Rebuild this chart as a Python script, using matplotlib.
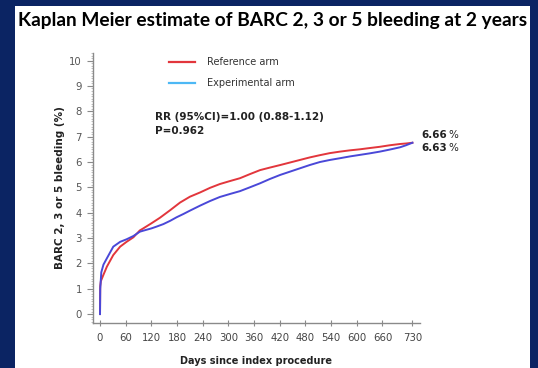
"""
plot.py — Kaplan Meier estimate of BARC 2, 3 or 5 bleeding at 2 years
Reference arm vs Experimental arm, saved to out.png
"""

import matplotlib
matplotlib.use("Agg")
import matplotlib.pyplot as plt
from matplotlib.patches import Rectangle
from matplotlib.ticker import MultipleLocator

# ── data ──
REF_DAYS = [0, 0.5, 2, 8, 16, 31, 47, 62, 78, 93, 101, 120, 140, 164, 187, 210, 234,
            257, 280, 304, 327, 350, 374, 397, 421, 444, 467, 490, 514, 537, 561,
            584, 607, 630, 654, 677, 701, 715, 730]
REF_PCT = [0, 1.1, 1.3, 1.55, 1.87, 2.33, 2.66, 2.85, 3.03, 3.30, 3.38, 3.58, 3.80,
           4.10, 4.40, 4.63, 4.80, 4.98, 5.13, 5.25, 5.36, 5.52, 5.68, 5.78, 5.88,
           5.98, 6.08, 6.18, 6.27, 6.35, 6.41, 6.46, 6.50, 6.55, 6.60, 6.66, 6.71,
           6.73, 6.76]

EXP_DAYS = [0, 0.5, 3, 8, 16, 31, 47, 62, 78, 93, 101, 120, 132, 148, 164, 179, 195,
            210, 234, 257, 280, 304, 327, 350, 374, 397, 421, 444, 467, 490, 514,
            537, 561, 584, 607, 630, 654, 677, 701, 715, 730]
EXP_PCT = [0, 1.0, 1.65, 1.95, 2.2, 2.66, 2.85, 2.95, 3.08, 3.25, 3.29, 3.38, 3.45,
           3.55, 3.68, 3.82, 3.95, 4.08, 4.28, 4.46, 4.62, 4.74, 4.85, 5.00, 5.16,
           5.33, 5.49, 5.62, 5.75, 5.88, 6.00, 6.08, 6.15, 6.22, 6.28, 6.34, 6.41,
           6.49, 6.58, 6.66, 6.76]

X_TICKS = [0, 60, 120, 180, 240, 300, 360, 420, 480, 540, 600, 660, 730]
Y_TICKS = list(range(0, 11))

FINAL_LABELS = ["6.66", "6.63"]
FINAL_Y = [7.07, 6.54]

# ── style ──
NAVY = "#0b2463"
RED = "#e2363c"
BLUE = "#4a48d8"
LIGHT_BLUE = "#4db8f5"
GRAY = "#8a8a8a"
TXT = "#222222"


def main():
    fig = plt.figure(figsize=(5.38, 3.68), dpi=100, facecolor=NAVY)
    # white slide panel (behind everything)
    fig.patches.append(Rectangle((15 / 538, 0), 515 / 538, 362 / 368,
                                 transform=fig.transFigure, facecolor="white",
                                 edgecolor="none", zorder=-10))

    fig.text(0.507, 0.943, "Kaplan Meier estimate of BARC 2, 3 or 5 bleeding at 2 years",
             ha="center", va="center", fontsize=13.8, fontweight="bold",
             family="Lato", color="black")

    ax = fig.add_axes([93 / 538, 1 - 322.7 / 368, 327 / 538, 269.7 / 368])
    ax.set_facecolor("none")
    ax.set_zorder(5)

    ax.plot(REF_DAYS, REF_PCT, color=RED, lw=1.4, zorder=3)
    ax.plot(EXP_DAYS, EXP_PCT, color=BLUE, lw=1.4, zorder=4)

    ax.set_xlim(-16.4, 747.7)
    ax.set_ylim(-0.34, 10.3)
    ax.set_xticks(X_TICKS)
    ax.set_yticks(Y_TICKS)
    ax.yaxis.set_minor_locator(MultipleLocator(0.1))

    for side in ("top", "right"):
        ax.spines[side].set_visible(False)
    for side in ("left", "bottom"):
        ax.spines[side].set_color(GRAY)
        ax.spines[side].set_linewidth(1.0)

    ax.tick_params(axis="y", which="major", length=4, width=0.8, color=GRAY,
                   labelsize=7.3, labelcolor="#555555", pad=4)
    ax.tick_params(axis="y", which="minor", length=1.5, width=0.5, color="#aaaaaa")
    ax.tick_params(axis="x", which="major", direction="inout", length=5, width=0.8,
                   color=GRAY, labelsize=7.3, labelcolor="#444444", pad=5)

    ax.set_xlabel("Days since index procedure", fontsize=7, fontweight="bold",
                  color=TXT, labelpad=9)
    ax.set_ylabel("BARC 2, 3 or 5 bleeding (%)", fontsize=7.5, fontweight="bold",
                  color=TXT, labelpad=3)

    # legend: the handle colour for the experimental arm is lighter than its curve
    h_ref, = ax.plot([], [], color=RED, lw=1.6, label="Reference arm")
    h_exp, = ax.plot([], [], color=LIGHT_BLUE, lw=1.6, label="Experimental arm")
    ax.legend(handles=[h_ref, h_exp], loc="upper left", bbox_to_anchor=(0.232, 0.985),
              frameon=False, fontsize=7, handlelength=2.7, handletextpad=1.2,
              labelspacing=1.15, borderpad=0, borderaxespad=0,
              labelcolor="#333333")

    ax.text(128.5, 7.77, "RR (95%CI)=1.00 (0.88-1.12)", fontsize=7.5,
            fontweight="bold", color=TXT, ha="left", va="center")
    ax.text(128.5, 7.24, "P=0.962", fontsize=7.5, fontweight="bold", color=TXT,
            ha="left", va="center")

    # final KM estimates at 730 days
    for lab, y in zip(FINAL_LABELS, FINAL_Y):
        ax.text(751.6, y, lab, fontsize=7.5, fontweight="bold", color=TXT,
                ha="left", va="center", clip_on=False)
        ax.annotate("%", (751.6, y), xytext=(19.5, 0), textcoords="offset points",
                    fontsize=7.5, color=TXT, ha="left", va="center",
                    annotation_clip=False)

    fig.savefig("out.png", dpi=100, facecolor=NAVY)
    plt.close(fig)


if __name__ == "__main__":
    main()
